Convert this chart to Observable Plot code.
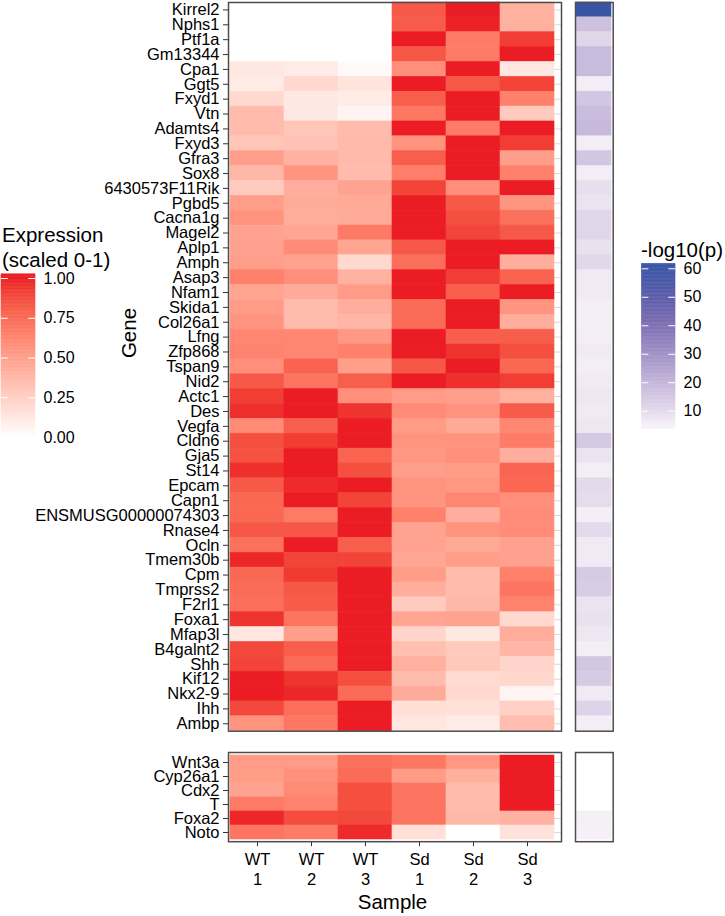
<!DOCTYPE html>
<html><head><meta charset="utf-8">
<script src="https://cdn.jsdelivr.net/npm/d3@7"></script>
<script src="https://cdn.jsdelivr.net/npm/@observablehq/plot@0.6"></script>
<style>
body{margin:0;background:#fff;}
#chart{position:relative;width:725px;height:916px;font-family:"Liberation Sans",Arial,sans-serif;color:#000;overflow:hidden;}
#chart svg{position:absolute;}
.lbl{position:absolute;white-space:nowrap;font-size:20.5px;line-height:25px;}
</style></head><body><div id="chart"></div>
<script>
// ---------- data ----------
const samples = ["WT 1","WT 2","WT 3","Sd 1","Sd 2","Sd 3"];
const genesTop = ["Kirrel2","Nphs1","Ptf1a","Gm13344","Cpa1","Ggt5","Fxyd1","Vtn","Adamts4","Fxyd3","Gfra3","Sox8","6430573F11Rik","Pgbd5","Cacna1g","Magel2","Aplp1","Amph","Asap3","Nfam1","Skida1","Col26a1","Lfng","Zfp868","Tspan9","Nid2","Actc1","Des","Vegfa","Cldn6","Gja5","St14","Epcam","Capn1","ENSMUSG00000074303","Rnase4","Ocln","Tmem30b","Cpm","Tmprss2","F2rl1","Foxa1","Mfap3l","B4galnt2","Shh","Kif12","Nkx2-9","Ihh","Ambp"];
const genesBottom = ["Wnt3a","Cyp26a1","Cdx2","T","Foxa2","Noto"];

const wt1Top = [0,0,0,0,0.12,0.10,0.20,0.35,0.35,0.30,0.50,0.37,0.27,0.50,0.56,0.48,0.49,0.50,0.65,0.47,0.52,0.55,0.62,0.63,0.58,0.82,0.92,0.96,0.60,0.86,0.85,0.96,0.82,0.76,0.76,0.83,0.72,0.98,0.76,0.74,0.73,0.95,0.13,0.88,0.90,1.0,1.0,0.88,0.56];
const wt2Top = [0,0,0,0,0.10,0.20,0.12,0.12,0.30,0.32,0.40,0.55,0.42,0.44,0.42,0.47,0.60,0.48,0.58,0.44,0.35,0.35,0.62,0.62,0.78,0.70,1.0,1.0,0.80,0.92,1.0,1.0,0.97,1.0,0.68,0.83,1.0,0.90,0.93,0.83,0.81,0.70,0.50,0.80,0.75,0.95,0.98,0.73,0.69];
const wt3Top = [0,0,0,0,0.03,0.14,0.10,0.06,0.35,0.36,0.36,0.35,0.48,0.45,0.44,0.68,0.47,0.20,0.40,0.52,0.42,0.38,0.53,0.65,0.50,0.80,0.58,0.95,1.0,1.0,0.78,0.86,1.0,0.90,1.0,1.0,0.80,0.90,1.0,1.0,1.0,1.0,1.0,1.0,1.0,0.86,0.74,1.0,1.0];
const sd1Top = [0.82,0.81,1.0,0.83,0.58,1.0,0.80,0.69,1.0,0.56,0.80,0.66,0.90,1.0,1.0,1.0,0.82,0.73,1.0,1.0,0.74,0.74,1.0,1.0,0.83,1.0,0.52,0.60,0.52,0.56,0.54,0.50,0.56,0.55,0.65,0.48,0.48,0.46,0.51,0.42,0.27,0.47,0.22,0.33,0.41,0.35,0.44,0.17,0.13];
const sd2Top = [1.0,0.99,0.67,0.67,1.0,0.82,1.0,1.0,0.67,1.0,1.0,1.0,0.58,0.82,0.86,0.90,1.0,1.0,0.92,0.80,1.0,1.0,0.80,0.95,1.0,0.96,0.50,0.56,0.45,0.56,0.58,0.52,0.54,0.62,0.42,0.56,0.45,0.51,0.35,0.35,0.37,0.48,0.12,0.28,0.29,0.19,0.20,0.16,0.10];
const sd3Top = [0.40,0.41,0.92,1.0,0.13,0.90,0.65,0.28,1.0,0.92,0.50,0.65,1.0,0.55,0.72,0.82,1.0,0.42,0.78,1.0,0.55,0.42,0.80,0.86,0.76,0.92,0.41,0.81,0.62,0.67,0.42,0.77,0.76,0.58,0.59,0.59,0.49,0.49,0.65,0.70,0.64,0.20,0.43,0.38,0.22,0.21,0.05,0.24,0.34];

const wt1Bottom = [0.52,0.51,0.48,0.67,0.98,0.70];
const wt2Bottom = [0.52,0.57,0.60,0.64,0.87,0.67];
const wt3Bottom = [0.72,0.74,0.86,0.86,0.88,0.97];
const sd1Bottom = [0.69,0.52,0.70,0.70,0.70,0.17];
const sd2Bottom = [0.54,0.41,0.35,0.35,0.37,0.0];
const sd3Bottom = [1.0,1.0,1.0,1.0,0.40,0.15];

// -log10(p) per gene
const pTop = [60.3,17,11,18.5,18.5,6,15.5,18,19,6,15.5,6,9,8,11,11,8.5,10.5,6.5,6.5,5.8,5.8,6,6.5,6,6.5,7.5,6.5,7.5,15,8,6,10,9.5,5.8,10,6.5,6.5,14,13.5,8,8.5,7.5,6,15.5,14,6.5,12,5.8];
const pBottom = [null,null,null,null,5.6,5.4];

const exprBreaks = [0,0.25,0.5,0.75,1];
const pBreaks = [10,20,30,40,50,60];

// ---------- scales ----------
const exprColor = {type:"linear", domain:[0,1], range:["#ffffff","#ec1c24"], interpolate:d3.interpolateLab};
const pLimits = [5.3, 60.3];
const pColor = {type:"linear", domain:[5.3,10,20,30,40,50,60.3], range:["#f6f0f7","#e4daeb","#c4b5da","#a191c6","#7f6fb4","#5c5daa","#3a54a5"]};

const topCols = [wt1Top,wt2Top,wt3Top,sd1Top,sd2Top,sd3Top];
const bottomCols = [wt1Bottom,wt2Bottom,wt3Bottom,sd1Bottom,sd2Bottom,sd3Bottom];
const topData = genesTop.flatMap((g,i)=>samples.map((s,j)=>({gene:g,sample:s,value:topCols[j][i]})));
const bottomData = genesBottom.flatMap((g,i)=>samples.map((s,j)=>({gene:g,sample:s,value:bottomCols[j][i]})));
const pTopData = genesTop.map((g,i)=>({gene:g,col:"p",value:pTop[i]}));
const pBottomData = genesBottom.map((g,i)=>({gene:g,col:"p",value:pBottom[i]}));

const FONT = '"Liberation Sans", Arial, sans-serif';
const baseStyle = {fontFamily:FONT, fontSize:"16.5px", background:"transparent", overflow:"visible", color:"#000"};
const chart = document.getElementById("chart");
function place(svg, left, top){ svg.style.left = left+"px"; svg.style.top = top+"px"; chart.appendChild(svg); }
const FRAME = {stroke:"#4d4d4d", strokeWidth:1.5};

// ---------- top heatmap ----------
place(Plot.plot({
  width:565, height:733, marginLeft:228, marginRight:4, marginTop:2, marginBottom:2.3,
  x:{domain:samples, range:[228.5,556], padding:0, axis:null},
  y:{domain:genesTop, range:[2,730.7], padding:0, axis:null},
  color:exprColor, style:baseStyle,
  marks:[
    Plot.gridY({stroke:"#d9d9d9", strokeOpacity:1}),
    Plot.cell(topData,{x:"sample",y:"gene",fill:"value",stroke:"value",strokeWidth:0.6}),
    Plot.axisY({tickSize:5, tickPadding:4, fontSize:16.5, stroke:"#333", fill:"#000", label:null}),
    Plot.frame(FRAME)
  ]
}), 0, 0);

// ---------- top p column ----------
place(Plot.plot({
  width:50, height:733, marginLeft:10, marginRight:2.3, marginTop:2, marginBottom:2.3,
  x:{domain:["p"], range:[11,46.7], padding:0, axis:null},
  y:{domain:genesTop, range:[2,730.7], padding:0, axis:null},
  color:pColor, style:baseStyle,
  marks:[
    Plot.cell(pTopData,{x:"col",y:"gene",fill:"value",stroke:"value",strokeWidth:0.6}),
    Plot.frame(FRAME)
  ]
}), 565, 0);

// ---------- bottom heatmap ----------
place(Plot.plot({
  width:565, height:176, marginLeft:228, marginRight:4, marginTop:12, marginBottom:74.8,
  x:{domain:samples, range:[228.5,556], padding:0, axis:null},
  y:{domain:genesBottom, range:[12,101.2], padding:0, axis:null},
  color:exprColor, style:baseStyle,
  marks:[
    Plot.gridY({stroke:"#d9d9d9", strokeOpacity:1}),
    Plot.cell(bottomData,{x:"sample",y:"gene",fill:"value",stroke:"value",strokeWidth:0.6}),
    Plot.axisY({tickSize:5, tickPadding:4, fontSize:16.5, stroke:"#333", fill:"#000", label:null}),
    Plot.axisX({tickSize:5, tickPadding:4.6, fontSize:16.5, lineHeight:1.2, stroke:"#333", fill:"#000", label:null,
      tickFormat:d=>d.replace(" ","\n")}),
    Plot.frame(FRAME)
  ]
}), 0, 740);

// ---------- bottom p column ----------
place(Plot.plot({
  width:50, height:106, marginLeft:10, marginRight:2.3, marginTop:12, marginBottom:4.8,
  x:{domain:["p"], range:[11,46.7], padding:0, axis:null},
  y:{domain:genesBottom, range:[12,101.2], padding:0, axis:null},
  color:pColor, style:baseStyle,
  marks:[
    Plot.cell(pBottomData.filter(d=>d.value!=null),{x:"col",y:"gene",fill:"value",stroke:"value",strokeWidth:0.6}),
    Plot.frame(FRAME)
  ]
}), 565, 740);

// ---------- expression legend ----------
{
  const lo = -0.0263, hi = 1.0263, n = 120;
  const bins = d3.range(n).map(i=>{const a=lo+(hi-lo)*i/n, b=lo+(hi-lo)*(i+1)/n; return {a,b,v:Math.max(0,Math.min(1,(a+b)/2))};});
  place(Plot.plot({
    width:100, height:190, margin:0,
    x:{domain:[0,1], range:[1,35], axis:null},
    y:{domain:[0,1], range:[177,18], axis:null},
    color:exprColor, style:baseStyle,
    marks:[
      Plot.rect(bins,{x1:0,x2:1,y1:"a",y2:"b",fill:"v",stroke:"v",strokeWidth:0.5}),
      Plot.ruleY(exprBreaks,{x1:0,x2:0.2,stroke:"white",strokeWidth:1}),
      Plot.ruleY(exprBreaks,{x1:0.8,x2:1,stroke:"white",strokeWidth:1}),
      Plot.text(exprBreaks,{x:1,y:d=>d,text:d=>d.toFixed(2),dx:8,textAnchor:"start",fontSize:16,fill:"#000"})
    ]
  }), 0, 260);
}

// ---------- p legend ----------
{
  const ppx = (160.7-18.3)/50;
  const lo = 10-(178.3-160.7)/ppx, hi = 60+(18.3-13.3)/ppx, n = 120;
  const bins = d3.range(n).map(i=>{const a=lo+(hi-lo)*i/n, b=lo+(hi-lo)*(i+1)/n; return {a,b,v:Math.max(pLimits[0],Math.min(pLimits[1],(a+b)/2))};});
  place(Plot.plot({
    width:95, height:190, margin:0,
    x:{domain:[0,1], range:[11.7,45], axis:null},
    y:{domain:[10,60], range:[160.7,18.3], axis:null},
    color:pColor, style:baseStyle,
    marks:[
      Plot.rect(bins,{x1:0,x2:1,y1:"a",y2:"b",fill:"v",stroke:"v",strokeWidth:0.5}),
      Plot.ruleY(pBreaks,{x1:0,x2:0.2,stroke:"white",strokeWidth:1}),
      Plot.ruleY(pBreaks,{x1:0.8,x2:1,stroke:"white",strokeWidth:1}),
      Plot.text(pBreaks,{x:1,y:d=>d,text:d=>String(d),dx:8,textAnchor:"start",fontSize:16,fill:"#000"})
    ]
  }), 630, 250);
}

// ---------- text labels ----------
function label(txt, left, top, extra){ const d=document.createElement("div"); d.className="lbl"; d.textContent=txt; d.style.left=left+"px"; d.style.top=top+"px"; if(extra) Object.assign(d.style, extra); chart.appendChild(d); return d; }
label("Expression", 2, 222);
label("(scaled 0-1)", 2, 247);
label("-log10(p)", 641, 237);
label("Sample", 0, 889, {width:"785px", textAlign:"center"});
label("Gene", 128, 333, {transform:"translate(-50%,-50%) rotate(-90deg)"});
</script></body></html>
